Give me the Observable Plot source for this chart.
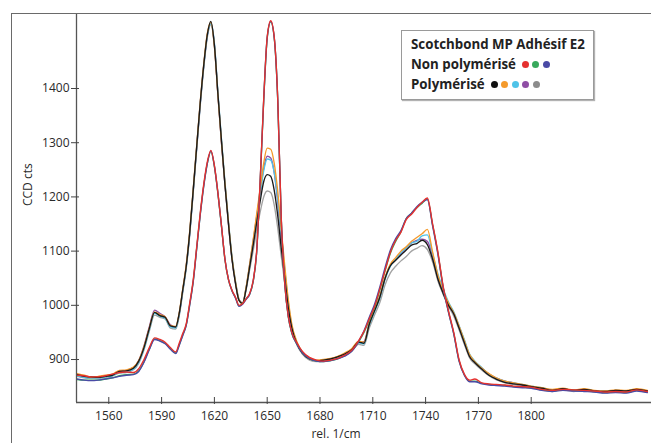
<!DOCTYPE html>
<html><head><meta charset="utf-8">
<script src="https://cdn.jsdelivr.net/npm/d3@7"></script>
<script src="https://cdn.jsdelivr.net/npm/@observablehq/plot@0.6"></script>
<style>
html,body{margin:0;padding:0;background:#fff;}
#wrap{position:relative;width:651px;height:443px;overflow:hidden;font-family:"Open Sans",sans-serif;}
#wrap svg{position:absolute;left:0;top:0;}
#frame{position:absolute;left:11px;top:13px;width:800px;height:600px;border-top:1px solid #6a6a6a;border-left:1px solid #6a6a6a;}
#legend{position:absolute;left:401px;top:30px;width:193px;height:70px;border:1px solid #9a9a9a;box-shadow:1px 1px 1px rgba(0,0,0,.3);background:#fff;font-weight:700;font-size:13.3px;color:#222;padding-top:3px;box-sizing:border-box;}
#legend .row{height:20px;line-height:20px;padding-left:9px;white-space:nowrap;}
#legend .dot{display:inline-block;width:7px;height:7px;border-radius:50%;margin-left:3.5px;vertical-align:middle;position:relative;top:-1px;}
#legend .first{margin-left:6px;}
</style>
</head><body>
<div id="wrap"></div>
<script>
const wavenumbers = [
  1542,1546,1550,1554,1558,1562,1566,1570,1574,1577,
  1580,1583,1586,1589,1592,1595,1598,1600,1602,1604,
  1606,1608,1610,1612,1614,1616,1618,1620,1622,1624,
  1626,1628,1630,1632,1634,1636,1638,1640,1642,1644,
  1646,1648,1650,1652,1654,1656,1658,1660,1662,1664,
  1667,1670,1674,1678,1682,1686,1690,1694,1698,1702,
  1705,1708,1711,1714,1717,1720,1723,1726,1729,1732,
  1735,1738,1741,1744,1747,1750,1753,1756,1759,1762,
  1765,1768,1772,1776,1780,1785,1790,1795,1800,1806,
  1812,1818,1824,1830,1836,1842,1848,1854,1860,1866
];

// Polymérisé
const polyBlack = [
  872,869,868,867,869,871,878,879,884,897,
  922,957,987,981,978,962,960,985,1028,1072,
  1135,1214,1295,1375,1445,1500,1524,1480,1390,1305,
  1222,1150,1085,1040,1009,1003,1030,1070,1110,1152,
  1192,1228,1241,1238,1212,1165,1105,1050,995,958,
  928,912,901,898,899,901,905,910,918,932,
  930,965,990,1015,1050,1073,1083,1093,1102,1111,
  1114,1120,1112,1085,1048,1022,1000,984,958,931,
  905,894,882,871,864,858,855,853,850,847,
  843,846,843,845,842,841,843,842,845,842
];
const polyOrange = [
  874,871,867,869,871,873,880,881,886,898,
  924,958,988,983,979,963,961,986,1030,1075,
  1138,1216,1297,1377,1447,1502,1522,1478,1388,1302,
  1225,1153,1088,1043,1010,1003,1033,1075,1120,1168,
  1215,1262,1290,1288,1262,1210,1140,1072,1010,965,
  932,914,903,899,900,902,906,912,920,934,
  932,966,992,1017,1052,1076,1088,1100,1108,1118,
  1125,1132,1140,1098,1055,1027,1004,986,962,935,
  909,896,884,874,866,860,857,854,851,848,
  845,847,844,846,843,842,844,843,846,843
];
const polyCyan = [
  870,867,866,866,868,870,876,877,882,895,
  920,955,985,980,976,960,958,983,1026,1071,
  1133,1212,1293,1373,1443,1498,1520,1484,1393,1307,
  1228,1155,1090,1044,1011,1003,1032,1073,1116,1160,
  1205,1248,1270,1268,1245,1195,1130,1065,1005,962,
  930,913,902,898,898,900,904,909,917,931,
  929,963,988,1013,1048,1072,1085,1097,1106,1115,
  1118,1128,1130,1095,1058,1030,1006,988,963,937,
  910,897,885,873,866,860,857,854,851,848,
  844,846,843,845,842,841,843,842,844,842
];
const polyPurple = [
  871,868,867,868,870,872,879,880,885,898,
  925,960,991,985,979,964,960,984,1027,1073,
  1134,1213,1294,1374,1444,1499,1521,1481,1389,1301,
  1224,1151,1086,1041,1009,1004,1032,1074,1118,1163,
  1208,1252,1275,1272,1245,1190,1122,1058,1000,960,
  929,912,902,898,899,901,905,910,918,931,
  933,968,992,1016,1050,1074,1084,1095,1106,1115,
  1120,1122,1118,1090,1052,1025,1003,985,961,934,
  908,896,884,873,866,860,857,853,850,847,
  843,846,843,845,842,841,843,842,845,842
];
const polyGray = [
  869,866,865,865,867,869,875,876,881,893,
  918,952,982,978,975,958,956,980,1023,1068,
  1130,1209,1290,1370,1440,1495,1518,1478,1388,1300,
  1222,1150,1086,1042,1010,1005,1028,1065,1100,1138,
  1172,1200,1211,1208,1185,1142,1090,1040,990,955,
  926,910,899,896,897,899,903,907,915,928,
  926,958,982,1005,1038,1060,1072,1082,1090,1100,
  1105,1110,1103,1080,1045,1020,998,980,955,928,
  903,892,880,870,863,857,854,851,848,845,
  841,844,841,843,840,839,841,840,843,840
];
// Non polymérisé
const nonGreen = [
  863,862,862,862,864,866,870,872,873,879,
  896,919,938,935,930,920,912,927,945,964,
  1002,1045,1107,1169,1222,1262,1284,1256,1206,1146,
  1084,1047,1027,1014,999,1003,1012,1020,1043,1097,
  1226,1376,1492,1523,1493,1378,1158,1038,978,948,
  928,913,902,897,896,898,901,907,916,933,
  950,973,996,1028,1064,1096,1118,1136,1160,1170,
  1180,1188,1196,1148,1096,1033,988,948,898,872,
  860,860,856,854,853,852,850,849,848,844,
  842,844,843,842,841,839,840,839,843,840
];
const nonIndigo = [
  864,862,861,862,864,866,869,871,872,878,
  895,918,937,934,929,919,911,926,944,963,
  1001,1044,1106,1168,1221,1262,1285,1257,1207,1147,
  1085,1048,1027,1013,998,1002,1011,1020,1044,1098,
  1228,1378,1494,1524,1494,1379,1159,1039,979,949,
  928,913,902,897,896,898,901,906,915,934,
  953,978,1002,1034,1070,1102,1123,1138,1160,1170,
  1182,1190,1195,1146,1094,1032,987,947,897,871,
  859,859,855,853,852,851,849,848,847,843,
  841,843,842,841,840,838,839,838,842,839
];
const nonRed = [
  871,870,868,868,870,873,876,877,876,883,
  900,922,940,937,932,922,914,930,948,966,
  1005,1048,1110,1172,1225,1265,1286,1258,1208,1148,
  1085,1048,1028,1015,1000,1003,1012,1022,1045,1100,
  1230,1380,1495,1525,1495,1380,1160,1040,980,950,
  930,915,904,899,897,899,902,908,917,935,
  952,975,998,1030,1065,1098,1120,1135,1158,1168,
  1180,1190,1198,1150,1098,1035,990,950,900,873,
  862,864,857,855,854,853,851,850,849,845,
  843,845,844,843,842,840,841,840,844,841
];

const seriesNames  = ["poly-gray","poly-purple","poly-cyan","poly-orange","poly-black","non-green","non-indigo","non-red"];
const seriesValues = [polyGray, polyPurple, polyCyan, polyOrange, polyBlack, nonGreen, nonIndigo, nonRed];
const seriesColors = ["#a3a3a3","#8f4ea5","#4fc3e8","#f49a2c","#1a1a1a","#38a95c","#4a4aa6","#e5312f"];

const xTicks = [1560,1590,1620,1650,1680,1710,1740,1770,1800];
const yTicks = [900,1000,1100,1200,1300,1400];
const xDomain = [1541.65, 1868.35];
const yDomain = [820.7, 1538.4];

const legendTitle = "Scotchbond MP Adhésif E2";
const legendGroups = [
  {label: "Non polymérisé", colors: ["#e5312f","#38a95c","#4a4aa6"]},
  {label: "Polymérisé", colors: ["#111111","#f49a2c","#4fc3e8","#8f4ea5","#8c8c8c"]}
];

const rows = [];
seriesNames.forEach((name, s) => {
  wavenumbers.forEach((w, i) => rows.push({name, w, v: seriesValues[s][i]}));
});

const plain = d => String(d);

const plot = Plot.plot({
  width: 651, height: 443,
  marginLeft: 76, marginRight: 0, marginTop: 13, marginBottom: 41,
  x: {domain: xDomain},
  y: {domain: yDomain},
  color: {domain: seriesNames, range: seriesColors},
  style: {fontFamily: "'Open Sans', sans-serif", fontSize: "12px", color: "#2a2a2a", background: "transparent"},
  marks: [
    Plot.line(rows, {x: "w", y: "v", z: "name", stroke: "name", strokeWidth: 1.35, curve: "monotone-x", clip: true}),
    Plot.ruleY([yDomain[0]], {stroke: "#555", strokeWidth: 1.3}),
    Plot.ruleX([xDomain[0]], {stroke: "#555", strokeWidth: 1.3}),
    Plot.axisX(xTicks, {tickSize: 7, dy: -5, tickFormat: () => "", stroke: "#444", label: null}),
    Plot.axisX(xTicks, {tickSize: 0, tickPadding: 9, tickFormat: plain, label: null, fill: "#2a2a2a"}),
    Plot.axisY(yTicks, {tickSize: 8, dx: 3, tickFormat: () => "", stroke: "#444", label: null}),
    Plot.axisY(yTicks, {tickSize: 0, tickPadding: 7, tickFormat: plain, label: null, fill: "#2a2a2a"}),
    Plot.text(["rel. 1/cm"], {frameAnchor: "bottom", dx: -28, dy: 35, fill: "#2a2a2a"}),
    Plot.text(["CCD cts"], {frameAnchor: "left", rotate: -90, dx: -48, dy: -2, fill: "#2a2a2a"})
  ]
});

const wrap = document.getElementById("wrap");
wrap.appendChild(plot);
const frame = document.createElement("div");
frame.id = "frame";
wrap.appendChild(frame);

const legend = document.createElement("div");
legend.id = "legend";
const t = document.createElement("div");
t.className = "row"; t.textContent = legendTitle;
legend.appendChild(t);
legendGroups.forEach(g => {
  const r = document.createElement("div");
  r.className = "row";
  r.appendChild(document.createTextNode(g.label));
  g.colors.forEach((c, i) => {
    const d = document.createElement("span");
    d.className = "dot" + (i === 0 ? " first" : "");
    d.style.background = c;
    r.appendChild(d);
  });
  legend.appendChild(r);
});
wrap.appendChild(legend);
</script>
</body></html>
